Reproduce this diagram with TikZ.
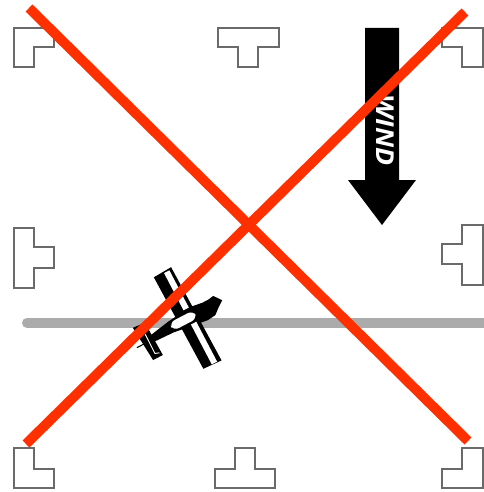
\documentclass[tikz,border=0pt]{standalone}
\usepackage{fontspec}
\setmainfont{Open Sans}
\usepackage{xcolor}
\definecolor{crossred}{HTML}{FF3000}
\definecolor{runwaygrey}{HTML}{ABABAB}
\definecolor{markergrey}{HTML}{6A6A6A}

\begin{document}
\begin{tikzpicture}[
    x=0.75pt,y=-0.75pt,
    marker/.style={draw=markergrey,line width=0.85pt,fill=white,line join=miter},
    runway/.style={draw=runwaygrey,line width=7.5pt,line cap=round},
    cross/.style={draw=crossred,line width=7.4pt},
    windarrow/.style={fill=black},
    planepart/.style={fill=black},
    planestripe/.style={fill=white}
  ]
    \useasboundingbox (0,0) rectangle (483,492);
    % field markers
    \draw[marker] (14,28) -- (54,28) -- (54,47) -- (34,47) -- (34,67) -- (14,67) -- cycle;
    \draw[marker] (218,28) -- (279,28) -- (279,47) -- (258,47) -- (258,67) -- (238,67) -- (238,47) -- (218,47) -- cycle;
    \draw[marker] (442,28) -- (483,28) -- (483,67) -- (462,67) -- (462,47) -- (442,47) -- cycle;
    \draw[marker] (14,228) -- (34,228) -- (34,247) -- (54,247) -- (54,268) -- (34,268) -- (34,288) -- (14,288) -- cycle;
    \draw[marker] (483,225) -- (462,225) -- (462,244) -- (442,244) -- (442,264) -- (462,264) -- (462,285) -- (483,285) -- cycle;
    \draw[marker] (14,448) -- (34,448) -- (34,469) -- (54,469) -- (54,488) -- (14,488) -- cycle;
    \draw[marker] (235,448) -- (255,448) -- (255,469) -- (275,469) -- (275,488) -- (215,488) -- (215,469) -- (235,469) -- cycle;
    \draw[marker] (483,448) -- (462,448) -- (462,469) -- (442,469) -- (442,488) -- (483,488) -- cycle;
    % runway
    \coordinate (runwaystart) at (27,323);
    \coordinate (runwayend) at (490,323);
    \draw[runway] (runwaystart) -- (runwayend);
    % wind arrow
    \fill[windarrow] (365,28) -- (399,28) -- (399,180) -- (416,180) -- (382,225) -- (348,180) -- (365,180) -- cycle;
    \node[text=white,font=\bfseries\itshape\fontsize{18.5}{18.5}\selectfont,rotate=-90,xscale=1.08,inner sep=0pt] (wind) at (385,130) {WIND};
    % aeroplane
    \begin{scope}[shift={(190.8,317.8)},rotate=27.6]
      \fill[planepart] (-50,-2) -- (-22,-7) -- (4,-10) -- (17,-8) -- (24,-8) -- (30,-9) -- (36,-1) -- (29,4) -- (23,9) -- (14,10) -- (-22,5) -- (-50,4) -- cycle;
      \fill[planepart] (-14,-53) -- (6,-54) -- (7.5,52) -- (-12.5,51) -- cycle;
      \fill[planestripe] (-3,-52) rectangle (3,-10);
      \fill[planestripe] (-3,6) rectangle (3,51);
      \fill[planepart] (-56,-18) -- (-43,-17) -- (-42,20) -- (-53,20) -- cycle;
      \draw[white,line width=0.7pt] (-48,-6.5) -- (-48.3,15) -- (-44,16.5);
      \draw[black,line width=0.8pt] (-61.6,1.5) -- (-53,1.5);
      \fill[planepart,rounded corners=5.5pt] (-23,-7) rectangle (7,5);
      \fill[planestripe,rounded corners=4.5pt] (-21.5,-5.5) rectangle (5.5,3.5);
    \end{scope}
    % cross
    \coordinate (crossnw) at (29,8);
    \coordinate (crossse) at (468,441);
    \coordinate (crossne) at (465,12);
    \coordinate (crosssw) at (26,444);
    \draw[cross] (crossnw) -- (crossse);
    \draw[cross] (crossne) -- (crosssw);
  \end{tikzpicture}
\end{document}
